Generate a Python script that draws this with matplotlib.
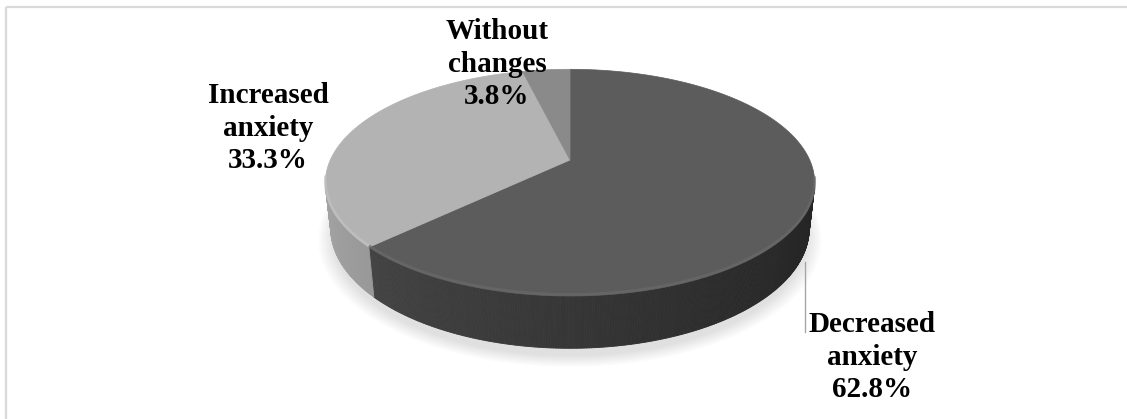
import numpy as np
import matplotlib
matplotlib.use("Agg")
import matplotlib.pyplot as plt
from matplotlib.collections import PolyCollection
from matplotlib.patches import Rectangle, Polygon

# ---- data ----
categories = ["Decreased\nanxiety", "Increased\nanxiety", "Without\nchanges"]
values = [62.8, 33.3, 3.8]
top_colors = ["#5c5c5c", "#b3b3b3", "#8a8a8a"]
side_base = [60, 136, 110]
rim_colors = ["#6a6a6a", "#c2c2c2", "#9a9a9a"]

# ---- projection parameters (layout) ----
W, H = 1127, 419
CX, CY = 570.0, 160.0
ELEV = np.arcsin(0.454)
S, C = np.sin(ELEV), np.cos(ELEV)
DIST = 5 * C
FOC = 1068.0
DEPTH = 0.215


def proj(phi, r=1.0, z=0.0):
    """phi: clockwise angle from 12 o'clock (radians)."""
    x = r * np.sin(phi)
    y = -r * np.cos(phi)
    d = DIST - y * C - z * S
    sx = FOC * x / d
    sy = FOC * (-y * S + z * C) / d
    return CX + sx, CY - sy


fig = plt.figure(figsize=(W / 100, H / 100), dpi=100)
ax = fig.add_axes([0, 0, 1, 1])
ax.set_xlim(0, W)
ax.set_ylim(H, 0)
ax.axis("off")

# border
ax.add_patch(Rectangle((5.5, 7.5), 1300, 600, fill=False, edgecolor="#d9d9d9", lw=1.6))

total = sum(values)
fracs = np.array(values) / total
bounds = np.concatenate([[0], np.cumsum(fracs)]) * 2 * np.pi

# shadow
phis = np.linspace(0, 2 * np.pi, 400)
for k, rr in enumerate(np.linspace(1.05, 0.99, 8)):
    xs, ys = proj(phis, r=rr, z=-DEPTH - 0.01)
    ax.add_patch(Polygon(np.column_stack([xs, ys + 7]), closed=True,
                         facecolor="#909090", edgecolor="none", alpha=0.035))

# side walls
polys, cols = [], []
step = np.radians(0.5)
for i in range(len(values)):
    a0, a1 = bounds[i], bounds[i + 1]
    n = max(2, int((a1 - a0) / step) + 1)
    ph = np.linspace(a0, a1, n)
    for p0, p1 in zip(ph[:-1], ph[1:]):
        pm = 0.5 * (p0 + p1)
        y = -np.cos(pm)
        if y < 1 / (DIST * C) - 0.02:
            continue
        x0t, y0t = proj(p0)
        x1t, y1t = proj(p1)
        x0b, y0b = proj(p0, z=-DEPTH)
        x1b, y1b = proj(p1, z=-DEPTH)
        polys.append([(x0t, y0t), (x1t, y1t), (x1b, y1b), (x0b, y0b)])
        xv = np.sin(pm)
        f = 0.6 + 0.6 * (1 - xv) / 2
        g = min(255, side_base[i] * f) / 255
        cols.append((g, g, g))
ax.add_collection(PolyCollection(polys, facecolors=cols, edgecolors=cols, linewidths=0.6))

# top faces
for i in range(len(values)):
    a0, a1 = bounds[i], bounds[i + 1]
    ph = np.linspace(a0, a1, 300)
    xs, ys = proj(ph)
    pts = np.column_stack([np.r_[CX, xs], np.r_[CY, ys]])
    ax.add_patch(Polygon(pts, closed=True, facecolor=top_colors[i],
                         edgecolor=top_colors[i], lw=0.5))
    # rim highlight on visible front part
    front = -np.cos(ph) > 0.15
    if front.any():
        ax.plot(xs[front], ys[front] - 1.5, color=rim_colors[i], lw=2.0,
                solid_capstyle="butt", alpha=0.7)

# leader line
ax.plot([805, 805], [262, 332], color="#a6a6a6", lw=1.0)

# labels
label_pos = [(872, 357), (268, 128), (497, 64)]
for i, (lx, ly) in enumerate(label_pos):
    txt = f"{categories[i]}\n{values[i]:.1f}%"
    ax.text(lx, ly, txt, ha="center", va="center", fontsize=21,
            fontweight="bold", family="Liberation Serif", linespacing=1.24,
            color="black")

fig.savefig("out.png", dpi=100)
